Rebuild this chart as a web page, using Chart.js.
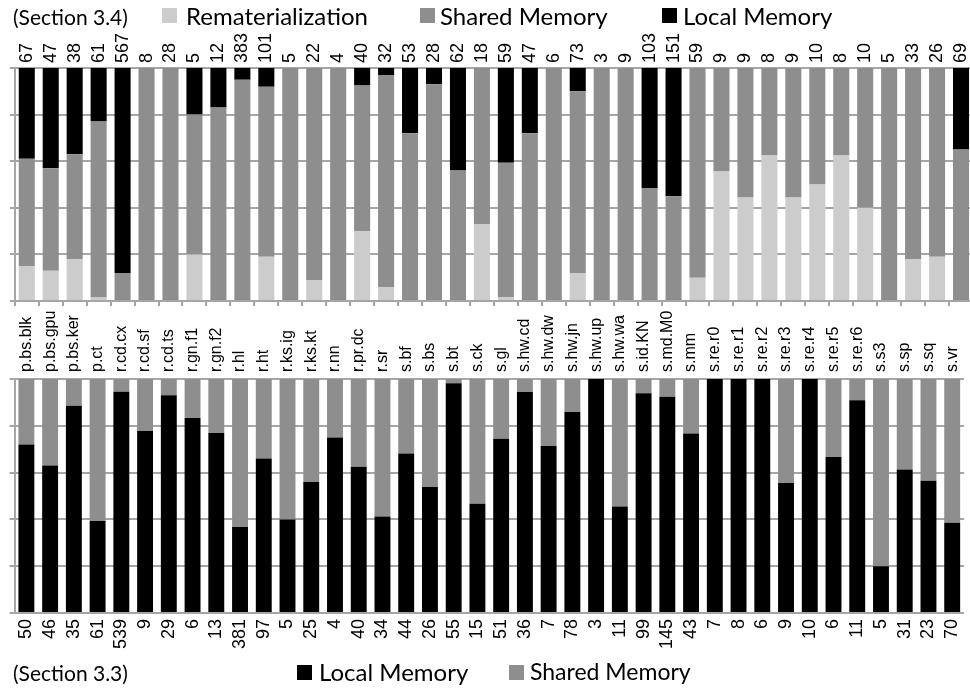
<!DOCTYPE html>
<html>
<head>
<meta charset="utf-8">
<script src="https://cdn.jsdelivr.net/npm/chart.js@4.4.1/dist/chart.umd.min.js"></script>
<style>
  html, body { margin: 0; padding: 0; background: #fff; }
  #page { position: relative; width: 970px; height: 689px; overflow: hidden; }
  canvas { position: absolute; left: 0; }
  .txt { position: absolute; font-family: Lato, 'Open Sans', sans-serif; font-size: 24px; color: #000; white-space: nowrap; line-height: 1; }
  .sec { font-size: 21px; }
  .sw { position: absolute; width: 15px; height: 15px; }
</style>
</head>
<body>
<div id="page">
  <canvas id="top" width="980" height="310" style="top:0"></canvas>
  <canvas id="bottom" width="980" height="389" style="top:300px"></canvas>

  <div class="txt sec" style="left:13px; top:6px">(Section 3.4)</div>
  <div class="sw" style="left:162px; top:8px; background:#cccccc"></div>
  <div class="txt" style="left:186px; top:4px">Rematerialization</div>
  <div class="sw" style="left:420px; top:8px; background:#8e8e8e"></div>
  <div class="txt" style="left:440px; top:4px">Shared Memory</div>
  <div class="sw" style="left:662px; top:8px; background:#000"></div>
  <div class="txt" style="left:683px; top:4px">Local Memory</div>

  <div class="txt sec" style="left:13px; top:662px">(Section 3.3)</div>
  <div class="sw" style="left:297px; top:665px; background:#000"></div>
  <div class="txt" style="left:319px; top:660px">Local Memory</div>
  <div class="sw" style="left:509px; top:665px; background:#8e8e8e"></div>
  <div class="txt" style="left:530px; top:660px; font-size:23px">Shared Memory</div>
</div>

<script>
const benchmarks = ['p.bs.blk', 'p.bs.gpu', 'p.bs.ker', 'p.ct', 'r.cd.cx', 'r.cd.sf', 'r.cd.ts', 'r.gn.f1', 'r.gn.f2', 'r.hl',
  'r.ht', 'r.ks.ig', 'r.ks.kt', 'r.nn', 'r.pr.dc', 'r.sr', 's.bf', 's.bs', 's.bt', 's.ck',
  's.gl', 's.hw.cd', 's.hw.dw', 's.hw.jn', 's.hw.up', 's.hw.wa', 's.id.KN', 's.md.M0', 's.mm', 's.re.r0',
  's.re.r1', 's.re.r2', 's.re.r3', 's.re.r4', 's.re.r5', 's.re.r6', 's.s3', 's.sp', 's.sq', 's.vr'];

// Section 3.4 (top panel), percent of each bar
const totals34 = ['67', '47', '38', '61', '567', '8', '28', '5', '12', '383',
  '101', '5', '22', '4', '40', '32', '53', '28', '62', '18',
  '59', '47', '6', '73', '3', '9', '103', '151', '59', '9',
  '9', '8', '9', '10', '8', '10', '5', '33', '26', '69'];
const remat34 = [15, 13, 18, 1.5, 0, 0, 0, 20, 0, 0,
  19, 0, 9, 0, 30, 6, 0, 0, 0, 33,
  1.7, 0, 0, 12, 0, 0, 0, 0, 10, 55.6,
  44.4, 62.5, 44.4, 50, 62.5, 40, 0, 18, 19, 0];
const shared34 = [46, 44, 45, 75.5, 12, 100, 100, 60, 83, 95,
  73, 100, 91, 100, 62.5, 91, 72, 93, 56, 67,
  57.6, 72, 100, 78, 100, 100, 48.5, 45, 90, 44.4,
  55.6, 37.5, 55.6, 50, 37.5, 60, 100, 82, 81, 65];
const local34 = [39, 43, 37, 23, 88, 0, 0, 20, 17, 5,
  8, 0, 0, 0, 7.5, 3, 28, 7, 44, 0,
  40.7, 28, 0, 10, 0, 0, 51.5, 55, 0, 0,
  0, 0, 0, 0, 0, 0, 0, 0, 0, 35];

// Section 3.3 (bottom panel)
const totals33 = ['50', '46', '35', '61', '539', '9', '29', '6', '13', '381',
  '97', '5', '25', '4', '40', '34', '44', '26', '55', '15',
  '51', '36', '7', '78', '3', '11', '99', '145', '43', '7',
  '8', '6', '9', '10', '6', '11', '5', '31', '23', '70'];
const local33 = [72, 63, 88.6, 39.3, 94.6, 77.8, 93.1, 83.3, 76.9, 36.8,
  66, 40, 56, 75, 62.5, 41.2, 68.2, 53.8, 98.2, 46.7,
  74.5, 94.4, 71.4, 85.9, 100, 45.5, 93.9, 92.4, 76.7, 100,
  100, 100, 55.6, 100, 66.7, 90.9, 20, 61.3, 56.5, 38.6];
const shared33 = [28, 37, 11.4, 60.7, 5.4, 22.2, 6.9, 16.7, 23.1, 63.2,
  34, 60, 44, 25, 37.5, 58.8, 31.8, 46.2, 1.8, 53.3,
  25.5, 5.6, 28.6, 14.1, 0, 54.5, 6.1, 7.6, 23.3, 0,
  0, 0, 44.4, 0, 33.3, 9.1, 80, 38.7, 43.5, 61.4];

const LIGHT = '#cccccc';
const MID = '#8e8e8e';
const GRID = '#a6a6a6';
const tickFont = { family: "'Liberation Sans', Arial, sans-serif", size: 18 };
const catFont = { family: "'Liberation Sans', Arial, sans-serif", size: 16 };

function bar(label, data, color) {
  return { label, data, backgroundColor: color, barPercentage: 0.67, categoryPercentage: 1 };
}

function yScale() {
  return {
    stacked: true, min: 0, max: 100,
    ticks: { display: false, stepSize: 20 },
    grid: { color: GRID, lineWidth: 2, tickLength: 5 },
    border: { color: GRID, width: 2 }
  };
}

// rotated labels on a top axis get pushed left by one line height, labelOffset puts them back
function rotatedTicks(font, padding, onTop) {
  return {
    autoSkip: false, minRotation: 90, maxRotation: 90, padding, font, color: '#000',
    labelOffset: onTop ? font.size * 1.2 : 0
  };
}

const common = {
  responsive: false,
  animation: false,
  devicePixelRatio: 1,
  layout: { padding: { left: 8, right: 7, top: 0, bottom: 0 } },
  plugins: { legend: { display: false }, tooltip: { enabled: false } }
};

new Chart(document.getElementById('top'), {
  type: 'bar',
  data: {
    labels: benchmarks,
    datasets: [
      bar('Rematerialization', remat34, LIGHT),
      bar('Shared Memory', shared34, MID),
      bar('Local Memory', local34, '#000')
    ]
  },
  options: {
    ...common,
    scales: {
      x: {
        stacked: true, offset: true,
        ticks: { display: false },
        grid: { drawOnChartArea: false, tickLength: 5, color: GRID, lineWidth: 2, offset: true },
        border: { color: GRID, width: 2 },
        afterFit: s => { s.height = 9; }
      },
      xTop: {
        type: 'category', position: 'top', offset: true, labels: totals34,
        grid: { display: false, drawTicks: false },
        border: { display: false },
        ticks: rotatedTicks(tickFont, 5, true),
        afterFit: s => { s.height = 68; }
      },
      y: yScale()
    }
  }
});

new Chart(document.getElementById('bottom'), {
  type: 'bar',
  data: {
    labels: benchmarks,
    datasets: [
      bar('Local Memory', local33, '#000'),
      bar('Shared Memory', shared33, MID)
    ]
  },
  options: {
    ...common,
    scales: {
      x: {
        stacked: true, offset: true, labels: totals33,
        grid: { display: false, drawTicks: false },
        border: { display: false },
        ticks: rotatedTicks(tickFont, 6, false),
        afterFit: s => { s.height = 76; }
      },
      xTop: {
        type: 'category', position: 'top', offset: true,
        grid: { display: false, drawTicks: false },
        border: { display: false },
        ticks: rotatedTicks(catFont, 7, true),
        afterFit: s => { s.height = 79; }
      },
      y: yScale()
    }
  }
});
</script>
</body>
</html>
